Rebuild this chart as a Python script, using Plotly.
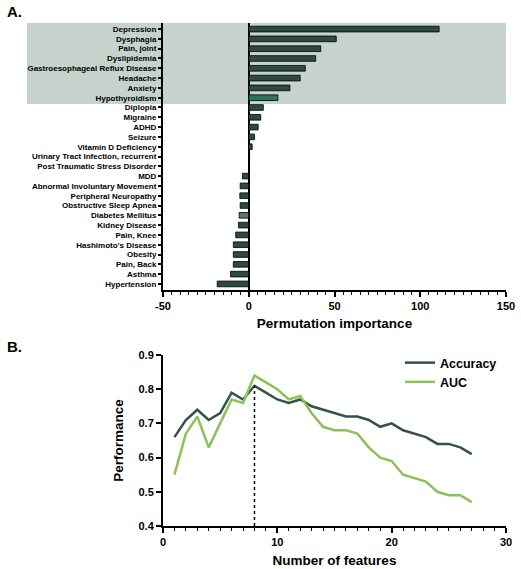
import plotly.graph_objects as go

# ---------------- data ----------------
conditions = [
    "Depression", "Dysphagia", "Pain, joint", "Dyslipidemia",
    "Gastroesophageal Reflux Disease", "Headache", "Anxiety", "Hypothyroidism",
    "Diplopia", "Migraine", "ADHD", "Seizure", "Vitamin D Deficiency",
    "Urinary Tract Infection, recurrent", "Post Traumatic Stress Disorder",
    "MDD", "Abnormal Involuntary Movement", "Peripheral Neuropathy",
    "Obstructive Sleep Apnea", "Diabetes Mellitus", "Kidney Disease",
    "Pain, Knee", "Hashimoto's Disease", "Obesity", "Pain, Back", "Asthma",
    "Hypertension",
]
importance = [
    111, 51, 42, 39, 33, 30, 24, 17,
    8.5, 7, 5.5, 3.3, 2, 0.5, 0.2,
    -3.7, -5, -5.2, -5, -5.6, -6, -7.6, -9, -9, -9, -10.6, -18.4,
]
n_top = 8  # highlighted top features

importance_ticks = [-50, 0, 50, 100, 150]
feature_ticks = [0, 10, 20, 30]
performance_ticks = [0.4, 0.5, 0.6, 0.7, 0.8, 0.9]

n_features = list(range(1, 28))
accuracy = [0.66, 0.71, 0.74, 0.71, 0.73, 0.79, 0.77, 0.81, 0.79, 0.77,
            0.76, 0.77, 0.75, 0.74, 0.73, 0.72, 0.72, 0.71, 0.69, 0.70,
            0.68, 0.67, 0.66, 0.64, 0.64, 0.63, 0.61]
auc = [0.55, 0.67, 0.72, 0.63, 0.70, 0.77, 0.76, 0.84, 0.82, 0.80,
       0.77, 0.78, 0.73, 0.69, 0.68, 0.68, 0.67, 0.63, 0.60, 0.59,
       0.55, 0.54, 0.53, 0.50, 0.49, 0.49, 0.47]

# ---------------- styles ----------------
W, H = 521, 569
FONT = "Liberation Sans"
DARK = "#2c4a3e"
bar_colors = [DARK] * len(conditions)
bar_colors[conditions.index("Hypothyroidism")] = "#2a7656"
bar_colors[conditions.index("Diabetes Mellitus")] = "#567a62"
ACC_COLOR = "#34524a"
AUC_COLOR = "#8cc25a"
SHADE = "#c6d2cc"


def px_x(p):
    return p / W


def px_y(p):
    return 1 - p / H


def bold(items, fmt="{}"):
    return ["<b>" + fmt.format(v) + "</b>" for v in items]


fig = go.Figure()

fig.add_trace(go.Bar(
    x=importance, y=list(range(len(conditions))), orientation="h",
    marker=dict(color=bar_colors, line=dict(color="black", width=0.8)),
    width=0.58, showlegend=False, xaxis="x", yaxis="y",
))

fig.add_trace(go.Scatter(
    x=n_features, y=accuracy, mode="lines", name="<b>Accuracy</b>",
    line=dict(color=ACC_COLOR, width=2.5), xaxis="x2", yaxis="y2",
))
fig.add_trace(go.Scatter(
    x=n_features, y=auc, mode="lines", name="<b>AUC</b>",
    line=dict(color=AUC_COLOR, width=2.5), xaxis="x2", yaxis="y2",
))

best_i = accuracy.index(max(accuracy))
best_n = n_features[best_i]

axis_common = dict(
    showline=True, linecolor="black", linewidth=2, ticks="outside",
    tickcolor="black", tickwidth=1.5, showgrid=False,
)
TICKFONT = dict(family=FONT, size=11, color="black")
TITLEFONT = dict(family=FONT, size=13.5, color="black")

nrows = len(conditions)
fig.update_layout(
    template="none",
    width=W, height=H,
    margin=dict(l=0, r=0, t=0, b=0),
    paper_bgcolor="white", plot_bgcolor="rgba(0,0,0,0)",
    font=dict(family=FONT, color="black"),
    xaxis=dict(
        **axis_common,
        domain=[px_x(163), px_x(506)], anchor="y",
        range=[-50, 150], tickvals=importance_ticks, ticktext=bold(importance_ticks),
        ticklen=5, tickfont=TICKFONT,
        minor=dict(dtick=5, ticks="outside", ticklen=3, tickcolor="black", tickwidth=1),
        zeroline=True, zerolinecolor="black", zerolinewidth=2,
        title=dict(text="<b>Permutation importance</b>", font=TITLEFONT, standoff=7),
    ),
    yaxis=dict(
        **axis_common,
        domain=[px_y(290), px_y(23)], anchor="x",
        range=[nrows - 1 + 0.62, -0.62],
        tickvals=list(range(nrows)), ticktext=bold(conditions), ticklen=3,
        tickfont=dict(family=FONT, size=8, color="black"),
        zeroline=False,
    ),
    xaxis2=dict(
        **axis_common,
        domain=[px_x(163), px_x(506)], anchor="y2",
        range=[0, 30], tickvals=feature_ticks, ticktext=bold(feature_ticks),
        ticklen=5, tickfont=TICKFONT,
        minor=dict(dtick=1, ticks="outside", ticklen=3, tickcolor="black", tickwidth=1),
        zeroline=False,
        title=dict(text="<b>Number of features</b>", font=TITLEFONT, standoff=8),
    ),
    yaxis2=dict(
        **axis_common,
        domain=[px_y(526), px_y(355)], anchor="x2",
        range=[0.4, 0.9], tickvals=performance_ticks,
        ticktext=bold(performance_ticks, "{:.1f}"), ticklen=5,
        tickfont=TICKFONT,
        zeroline=False,
        title=dict(text="<b>Performance</b>", font=TITLEFONT, standoff=12),
    ),
    legend=dict(
        x=px_x(400), y=px_y(348), xanchor="left", yanchor="top",
        bgcolor="rgba(0,0,0,0)", font=dict(family=FONT, size=12.5, color="black"),
        itemwidth=30, tracegroupgap=0, itemclick=False,
    ),
    shapes=[
        dict(type="rect", xref="paper", yref="y",
             x0=px_x(27), x1=px_x(506), y0=-0.62, y1=n_top - 1 + 0.65,
             fillcolor=SHADE, line=dict(width=0), layer="below"),
        dict(type="line", xref="x2", yref="y2",
             x0=best_n, x1=best_n, y0=0.4, y1=accuracy[best_i],
             line=dict(color="black", width=1.5, dash="dot")),
    ],
    annotations=[
        dict(text="<b>A.</b>", x=px_x(5), y=px_y(12), xref="paper", yref="paper",
             xanchor="left", yanchor="middle", showarrow=False,
             font=dict(family=FONT, size=15, color="black")),
        dict(text="<b>B.</b>", x=px_x(5), y=px_y(346), xref="paper", yref="paper",
             xanchor="left", yanchor="middle", showarrow=False,
             font=dict(family=FONT, size=15, color="black")),
    ],
)

fig.write_html("out.html")
